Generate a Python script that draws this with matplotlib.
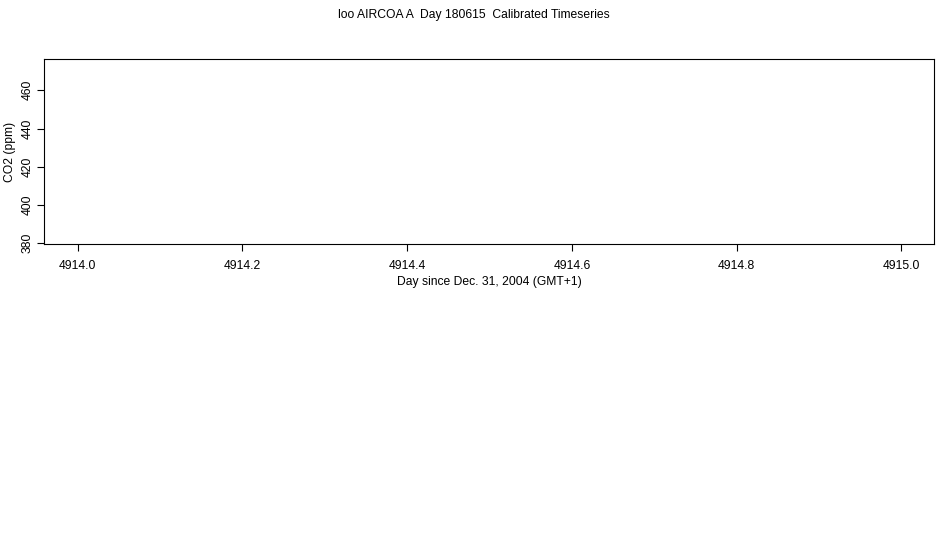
import matplotlib
matplotlib.use("Agg")
import matplotlib.pyplot as plt

plt.rcParams['font.family'] = ['Liberation Sans', 'DejaVu Sans']

# Data (the reference series is empty)
day = []
co2 = []
x_ticks = [4914.0, 4914.2, 4914.4, 4914.6, 4914.8, 4915.0]
y_ticks = [380, 400, 420, 440, 460]
x_limits = (4913.9595, 4915.0397)
y_limits = (379.6, 476.2)

title = "loo AIRCOA A  Day 180615  Calibrated Timeseries"
xlabel = "Day since Dec. 31, 2004 (GMT+1)"
ylabel = "CO2 (ppm)"

W, H = 950, 550
fig = plt.figure(figsize=(W / 100, H / 100), dpi=100)
left, right, top, bottom = 44.3, 934, 59.3, 244
ax = fig.add_axes([left / W, 1 - bottom / H, (right - left) / W, (bottom - top) / H])

ax.plot(day, co2, color='black', lw=1)
ax.set_xlim(*x_limits)
ax.set_ylim(*y_limits)

fs = 8.7
ax.set_xticks(x_ticks)
ax.set_xticklabels([f"{v:.1f}" for v in x_ticks], fontsize=fs)
ax.set_yticks(y_ticks)
ax.set_yticklabels([str(v) for v in y_ticks], fontsize=fs, rotation=90, va='center')
ax.tick_params(axis='x', length=5.0, width=0.8, pad=6.5, colors='black')
ax.tick_params(axis='y', length=5.0, width=0.8, pad=2.5, colors='black')
for s in ax.spines.values():
    s.set_linewidth(0.8)
    s.set_color('black')

fig.text(473.5 / W, 1 - 15 / H, title, ha='center', va='center', fontsize=fs)
fig.text((left + right) / 2 / W, 1 - 282 / H, xlabel, ha='center', va='center', fontsize=fs)
fig.text(10 / W, 1 - (top + bottom) / 2 / H, ylabel, ha='center', va='center', rotation=90, fontsize=fs)

fig.savefig("out.png", dpi=100, facecolor='white')
